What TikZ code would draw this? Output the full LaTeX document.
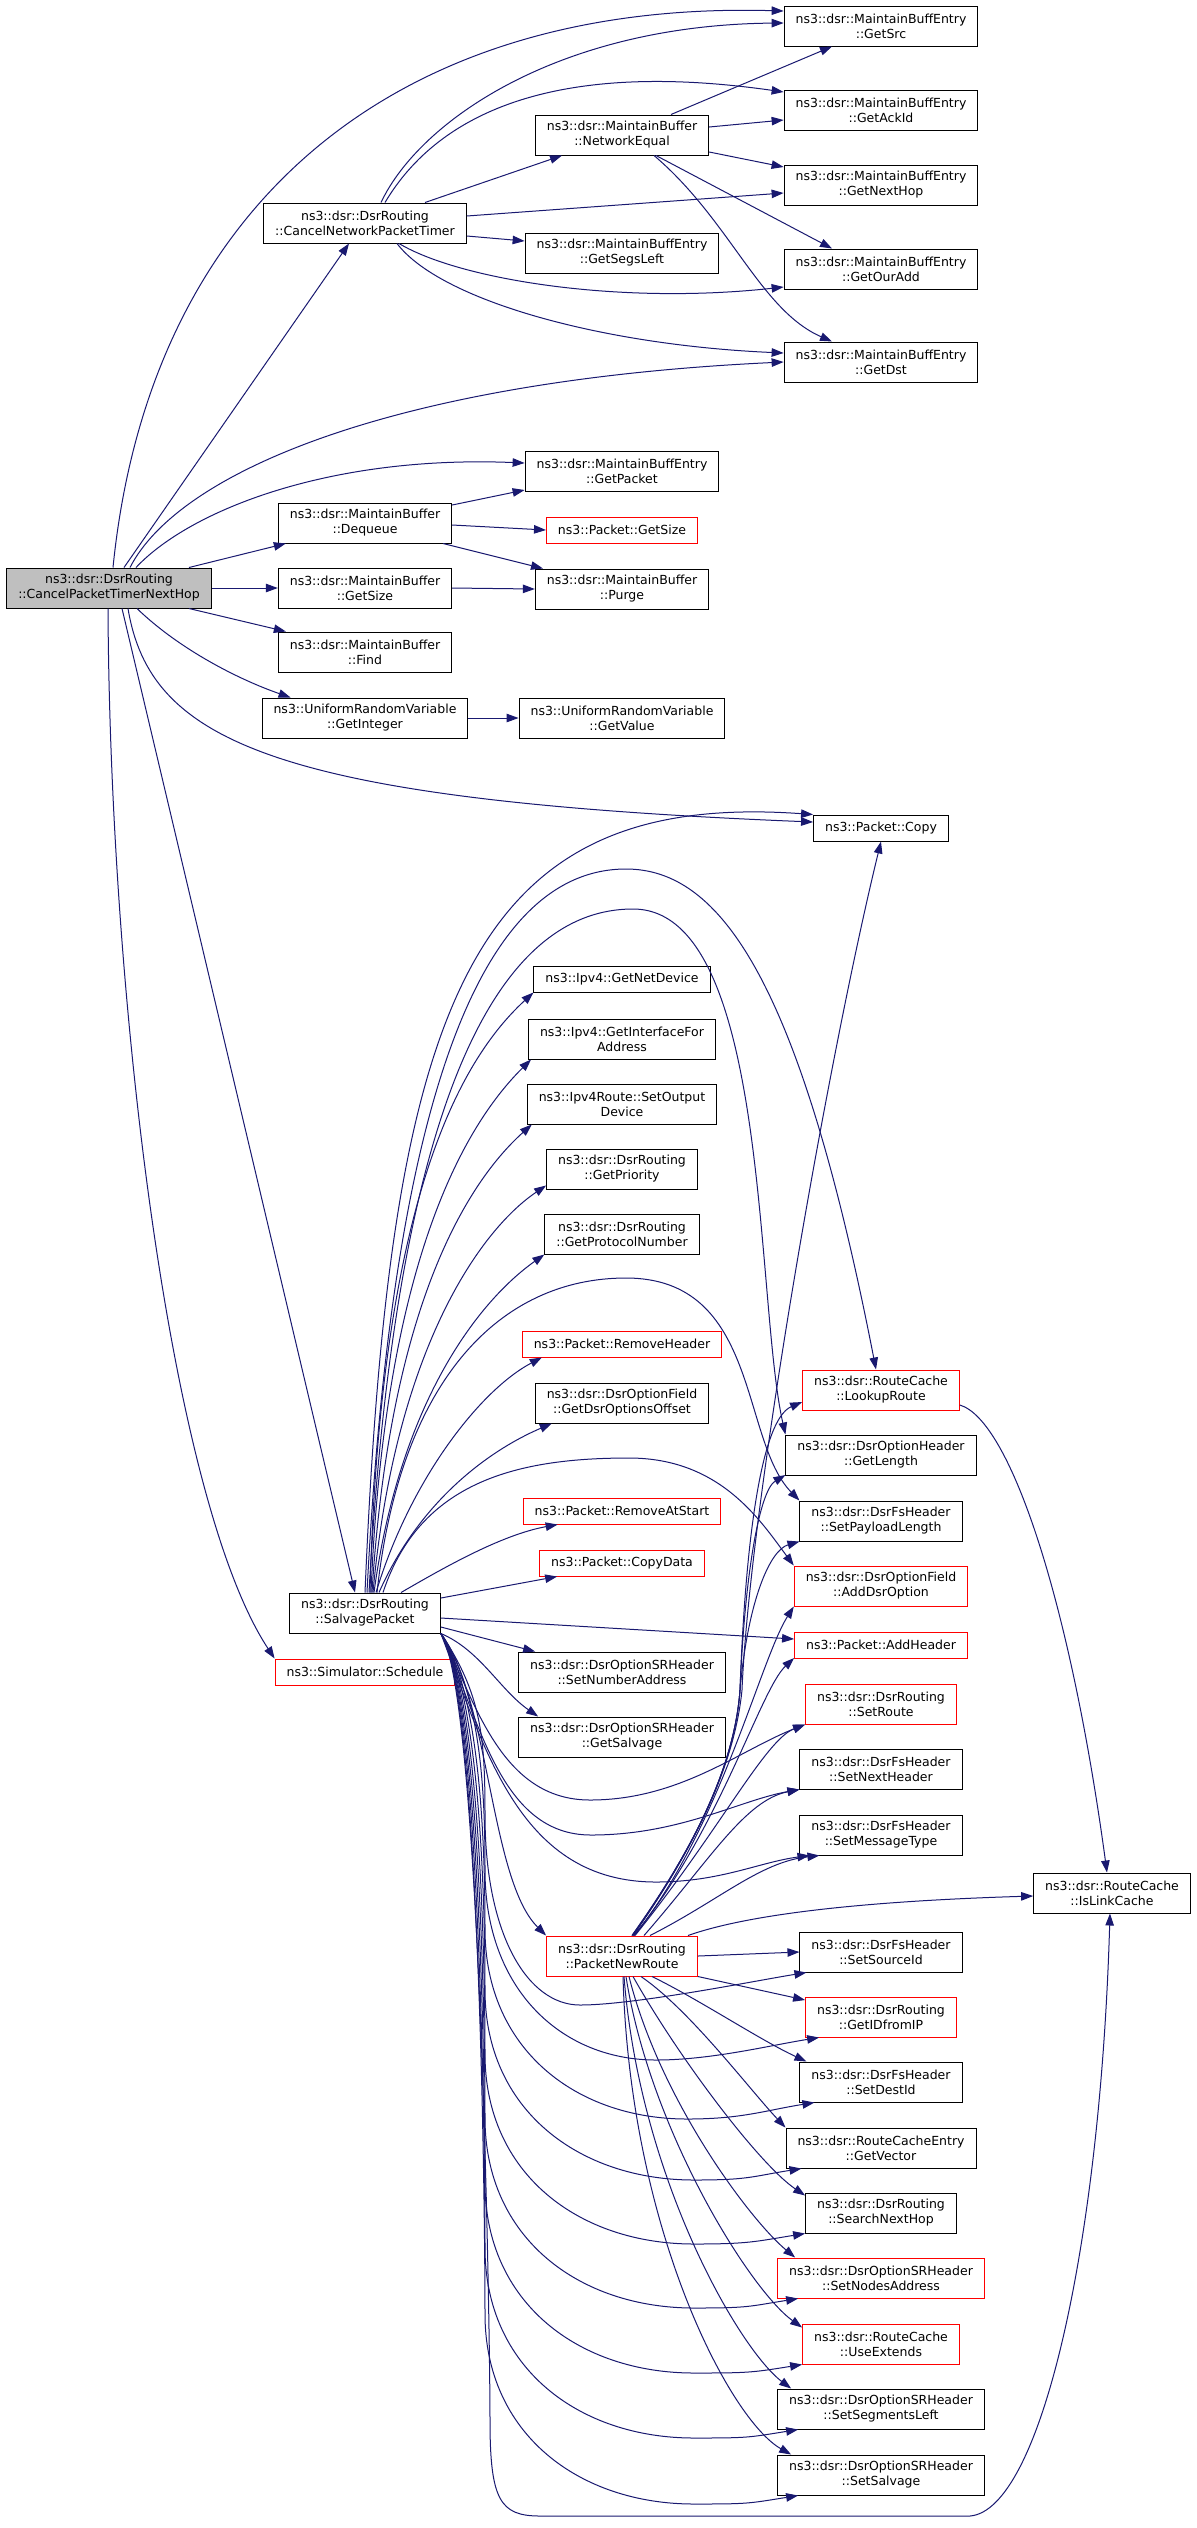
\documentclass[tikz,border=0pt]{standalone}
\usepackage{fontspec}
\setmainfont{DejaVu Sans}
\usetikzlibrary{arrows.meta}
\definecolor{edgeblue}{RGB}{25,25,112}
\definecolor{rootgrey}{RGB}{191,191,191}

\tikzset{
  fn/.style={draw=black, fill=white, line width=1pt, align=center,
    font=\fontsize{12.5}{15}\selectfont, inner xsep=11.5pt, inner ysep=2pt,
    minimum height=40pt},
  fnone/.style={fn, minimum height=26pt},
  ext/.style={draw=red},
  call/.style={-{Triangle[length=12pt,width=8.5pt]}, draw=edgeblue, fill=none,
    line width=1pt}
}

\begin{document}
\begin{tikzpicture}[x=1pt, y=-1pt]
    % Canvas
    \fill[white] (0,0) rectangle (1197,2528);
    \useasboundingbox (0,0) rectangle (1197,2528);

    % Caller
    \node[fn, fill=rootgrey] (root) at (109,588) {ns3::dsr::DsrRouting\\::CancelPacketTimerNextHop};

    % First level callees
    \node[fn] (cnpt) at (365,223) {ns3::dsr::DsrRouting\\::CancelNetworkPacketTimer};
    \node[fn] (dequeue) at (365,523) {ns3::dsr::MaintainBuffer\\::Dequeue};
    \node[fn] (mbsize) at (365,588) {ns3::dsr::MaintainBuffer\\::GetSize};
    \node[fn] (find) at (365,652) {ns3::dsr::MaintainBuffer\\::Find};
    \node[fn] (getint) at (365,718) {ns3::UniformRandomVariable\\::GetInteger};
    \node[fn] (salvage) at (365,1613) {ns3::dsr::DsrRouting\\::SalvagePacket};
    \node[fnone, ext] (schedule) at (365,1672) {ns3::Simulator::Schedule};

    % Second level callees
    \node[fn] (neteq) at (622,135) {ns3::dsr::MaintainBuffer\\::NetworkEqual};
    \node[fn] (segsleft) at (622,253) {ns3::dsr::MaintainBuffEntry\\::GetSegsLeft};
    \node[fn] (getpacket) at (622,471) {ns3::dsr::MaintainBuffEntry\\::GetPacket};
    \node[fnone, ext] (pktsize) at (622,530) {ns3::Packet::GetSize};
    \node[fn] (purge) at (622,589) {ns3::dsr::MaintainBuffer\\::Purge};
    \node[fn] (getvalue) at (622,718) {ns3::UniformRandomVariable\\::GetValue};
    \node[fnone] (netdev) at (622,979) {ns3::Ipv4::GetNetDevice};
    \node[fn] (ifaddr) at (622,1039) {ns3::Ipv4::GetInterfaceFor\\Address};
    \node[fn] (outdev) at (622,1104) {ns3::Ipv4Route::SetOutput\\Device};
    \node[fn] (priority) at (622,1169) {ns3::dsr::DsrRouting\\::GetPriority};
    \node[fn] (protonum) at (622,1234) {ns3::dsr::DsrRouting\\::GetProtocolNumber};
    \node[fnone, ext] (rmheader) at (622,1344) {ns3::Packet::RemoveHeader};
    \node[fn] (optoffset) at (622,1403) {ns3::dsr::DsrOptionField\\::GetDsrOptionsOffset};
    \node[fnone, ext] (rmstart) at (622,1511) {ns3::Packet::RemoveAtStart};
    \node[fnone, ext] (copydata) at (622,1563) {ns3::Packet::CopyData};
    \node[fn] (numaddr) at (622,1672) {ns3::dsr::DsrOptionSRHeader\\::SetNumberAddress};
    \node[fn] (getsalvage) at (622,1737) {ns3::dsr::DsrOptionSRHeader\\::GetSalvage};
    \node[fn, ext] (newroute) at (622,1956) {ns3::dsr::DsrRouting\\::PacketNewRoute};

    % Third level callees
    \node[fn] (src) at (881,26) {ns3::dsr::MaintainBuffEntry\\::GetSrc};
    \node[fn] (ackid) at (881,110) {ns3::dsr::MaintainBuffEntry\\::GetAckId};
    \node[fn] (nexthop) at (881,185) {ns3::dsr::MaintainBuffEntry\\::GetNextHop};
    \node[fn] (ouradd) at (881,269) {ns3::dsr::MaintainBuffEntry\\::GetOurAdd};
    \node[fn] (dst) at (881,362) {ns3::dsr::MaintainBuffEntry\\::GetDst};
    \node[fnone] (copy) at (881,828) {ns3::Packet::Copy};
    \node[fn, ext] (lookup) at (881,1390) {ns3::dsr::RouteCache\\::LookupRoute};
    \node[fn] (getlength) at (881,1455) {ns3::dsr::DsrOptionHeader\\::GetLength};
    \node[fn] (paylen) at (881,1521) {ns3::dsr::DsrFsHeader\\::SetPayloadLength};
    \node[fn, ext] (adddsr) at (881,1586) {ns3::dsr::DsrOptionField\\::AddDsrOption};
    \node[fnone, ext] (addheader) at (881,1645) {ns3::Packet::AddHeader};
    \node[fn, ext] (setroute) at (881,1704) {ns3::dsr::DsrRouting\\::SetRoute};
    \node[fn] (nextheader) at (881,1769) {ns3::dsr::DsrFsHeader\\::SetNextHeader};
    \node[fn] (msgtype) at (881,1835) {ns3::dsr::DsrFsHeader\\::SetMessageType};
    \node[fn] (sourceid) at (881,1952) {ns3::dsr::DsrFsHeader\\::SetSourceId};
    \node[fn, ext] (idfromip) at (881,2017) {ns3::dsr::DsrRouting\\::GetIDfromIP};
    \node[fn] (destid) at (881,2082) {ns3::dsr::DsrFsHeader\\::SetDestId};
    \node[fn] (vector) at (881,2148) {ns3::dsr::RouteCacheEntry\\::GetVector};
    \node[fn] (searchnh) at (881,2213) {ns3::dsr::DsrRouting\\::SearchNextHop};
    \node[fn, ext] (nodesaddr) at (881,2278) {ns3::dsr::DsrOptionSRHeader\\::SetNodesAddress};
    \node[fn, ext] (useext) at (881,2344) {ns3::dsr::RouteCache\\::UseExtends};
    \node[fn] (segleft) at (881,2409) {ns3::dsr::DsrOptionSRHeader\\::SetSegmentsLeft};
    \node[fn] (setsalvage) at (881,2475) {ns3::dsr::DsrOptionSRHeader\\::SetSalvage};

    % Fourth level
    \node[fn] (linkcache) at (1112,1893) {ns3::dsr::RouteCache\\::IsLinkCache};

    % Calls made by the caller
    \draw[call] ([xshift=4pt]root.north) .. controls (150,200) and (400,0) .. ([yshift=15pt]src.west);
    \draw[call] ([xshift=15pt]root.north) -- ([xshift=-16pt]cnpt.south);
    \draw[call] ([xshift=21pt]root.north) .. controls (180,470) and (400,380) .. (dst.west);
    \draw[call] ([xshift=27pt]root.north) .. controls (190,510) and (330,455) .. ([yshift=8pt]getpacket.west);
    \draw[call] ([xshift=80pt]root.north) -- ([xshift=8pt]dequeue.south west);
    \draw[call] (root.east) -- (mbsize.west);
    \draw[call] ([xshift=80pt]root.south) -- ([xshift=8pt]find.north west);
    \draw[call] ([xshift=28pt]root.south) .. controls (180,650) and (240,680) .. ([xshift=29pt]getint.north west);
    \draw[call] ([xshift=19pt]root.south) .. controls (150,740) and (270,800) .. ([yshift=6pt]copy.west);
    \draw[call] ([xshift=13pt]root.south) -- ([xshift=-10pt]salvage.north);
    \draw[call] ([xshift=-1pt]root.south) .. controls (110,1000) and (170,1500) .. (schedule.north west);

    % CancelNetworkPacketTimer
    \draw[call] ([xshift=16pt]cnpt.north) .. controls (420,120) and (560,25) .. ([yshift=3pt]src.west);
    \draw[call] ([xshift=20pt]cnpt.north) .. controls (440,110) and (560,60) .. ([yshift=18pt]ackid.west);
    \draw[call] ([xshift=60pt]cnpt.north) -- ([xshift=-60pt]neteq.south);
    \draw[call] ([yshift=7pt]cnpt.east) -- ([yshift=-8pt]nexthop.west);
    \draw[call] ([yshift=-13pt]cnpt.east) -- ([yshift=12pt]segsleft.west);
    \draw[call] ([xshift=34pt]cnpt.south) .. controls (460,280) and (620,305) .. ([yshift=-18pt]ouradd.west);
    \draw[call] ([xshift=32pt]cnpt.south) .. controls (440,300) and (600,345) .. ([yshift=9pt]dst.west);

    % NetworkEqual
    \draw[call] ([xshift=49pt]neteq.north) -- ([xshift=-49pt]src.south);
    \draw[call] ([yshift=8pt]neteq.east) -- ([yshift=-10pt]ackid.west);
    \draw[call] ([yshift=-17pt]neteq.east) -- ([yshift=18pt]nexthop.west);
    \draw[call] ([xshift=34pt]neteq.south) -- ([xshift=-49pt]ouradd.north);
    \draw[call] ([xshift=32pt]neteq.south) .. controls (730,220) and (760,310) .. ([xshift=-49pt]dst.north);

    % MaintainBuffer and random variable
    \draw[call] ([yshift=18pt]dequeue.east) -- ([yshift=-19pt]getpacket.west);
    \draw[call] ([yshift=-2pt]dequeue.east) -- (pktsize.west);
    \draw[call] ([xshift=78pt]dequeue.south) -- ([xshift=-79pt]purge.north);
    \draw[call] (mbsize.east) -- (purge.west);
    \draw[call] (getint.east) -- (getvalue.west);

    % SalvagePacket, upwards
    \draw[call] (salvage.north) .. controls (390,1000) and (470,790) .. (copy.north west);
    \draw[call] ([xshift=2pt]salvage.north) .. controls (392,1100) and (480,869) .. (626,869)
        .. controls (720,869) and (800,980) .. ([xshift=-5pt]lookup.north);
    \draw[call] ([xshift=4pt]salvage.north) .. controls (395,1120) and (490,909) .. (633,909)
        .. controls (770,909) and (755,1300) .. (getlength.north west);
    \draw[call] ([xshift=12pt]salvage.north) .. controls (400,1380) and (500,1278) .. (626,1278)
        .. controls (760,1278) and (740,1440) .. (paylen.north west);
    \draw[call] ([xshift=18pt]salvage.north) .. controls (420,1480) and (520,1458) .. (629,1458)
        .. controls (720,1458) and (760,1520) .. (adddsr.north west);
    \draw[call] ([xshift=5pt]salvage.north) .. controls (380,1200) and (460,1060) .. (netdev.south west);
    \draw[call] ([xshift=6pt]salvage.north) .. controls (385,1250) and (470,1120) .. ([xshift=3pt]ifaddr.south west);
    \draw[call] ([xshift=7pt]salvage.north) .. controls (390,1300) and (470,1180) .. ([xshift=5pt]outdev.south west);
    \draw[call] ([xshift=8pt]salvage.north) .. controls (395,1350) and (480,1230) .. ([yshift=4pt]priority.south west);
    \draw[call] ([xshift=9pt]salvage.north) .. controls (400,1400) and (480,1300) .. (protonum.south west);
    \draw[call] ([xshift=11pt]salvage.north) .. controls (410,1480) and (480,1390) .. ([xshift=20pt]rmheader.south west);
    \draw[call] ([xshift=14pt]salvage.north) .. controls (420,1500) and (490,1450) .. ([xshift=17pt]optoffset.south west);
    \draw[call] ([xshift=36pt]salvage.north) .. controls (440,1570) and (500,1535) .. ([xshift=35pt]rmstart.south west);

    % SalvagePacket, sideways
    \draw[call] ([yshift=15pt]salvage.east) -- ([xshift=18pt]copydata.south west);
    \draw[call] ([yshift=-5pt]salvage.east) -- ([yshift=6pt]addheader.west);
    \draw[call] ([yshift=-14pt]salvage.east) -- ([xshift=17pt]numaddr.north west);

    % SalvagePacket, downwards
    \draw[call] (salvage.south east) .. controls (480,1650) and (500,1690) .. ([xshift=20pt]getsalvage.north west);
    \draw[call] (salvage.south east) .. controls (490,1700) and (490,1880) .. (newroute.north west);
    \draw[call] (salvage.south east) .. controls (475,1700) and (500,1800) .. (590,1800)
        .. controls (680,1800) and (740,1750) .. (setroute.south west);
    \draw[call] (salvage.south east) .. controls (480,1720) and (500,1835) .. (591,1835)
        .. controls (680,1835) and (740,1800) .. (nextheader.south west);
    \draw[call] (salvage.south east) .. controls (485,1750) and (520,1882) .. (656,1882)
        .. controls (720,1882) and (760,1862) .. ([xshift=10pt]msgtype.south west);
    \foreach \t/\dx/\dy/\sh in {sourceid/580/2005/7, idfromip/656/2060/14, destid/687/2119/15,
        vector/694/2180/16, searchnh/694/2244/0, nodesaddr/694/2308/21, useext/694/2373/0,
        segleft/694/2438/21, setsalvage/694/2504/21} {
        \draw[call] (salvage.south east) .. controls +(40,60) and +(0,-80) .. (485,{\dy-190})
            .. controls +(0,120) and +({-(\dx-485)*0.55},0) .. (\dx,\dy)
            .. controls +(55,0) and +(-50,8) .. ([xshift=\sh pt]\t.south west);
    }
    \draw[call] (salvage.south east) .. controls +(40,60) and +(0,-80) .. (490,2420)
        .. controls (490,2500) and (500,2516) .. (540,2516) -- (970,2516)
        .. controls (1040,2510) and (1100,2250) .. ([xshift=-2pt]linkcache.south);

    % PacketNewRoute, upwards
    \draw[call] ([xshift=11pt]newroute.north) .. controls (700,1840) and (735,1760) .. (742,1690)
        .. controls (750,1500) and (830,1050) .. (copy.south);
    \draw[call] ([xshift=10pt]newroute.north) .. controls (700,1840) and (735,1760) .. (740,1690)
        .. controls (745,1550) and (760,1420) .. ([yshift=-12pt]lookup.west);
    \draw[call] ([xshift=10pt]newroute.north) .. controls (700,1840) and (735,1760) .. (740,1690)
        .. controls (745,1570) and (760,1490) .. ([yshift=-20pt]getlength.west);
    \draw[call] ([xshift=11pt]newroute.north) .. controls (700,1840) and (735,1760) .. (740,1690)
        .. controls (748,1600) and (770,1550) .. (paylen.south west);
    \draw[call] ([xshift=12pt]newroute.north) .. controls (720,1830) and (760,1660) .. (adddsr.south west);
    \draw[call] ([xshift=12pt]newroute.north) .. controls (720,1830) and (760,1690) .. ([yshift=-13pt]addheader.west);
    \draw[call] ([xshift=13pt]newroute.north) .. controls (720,1830) and (765,1740) .. (setroute.south west);
    \draw[call] ([xshift=22pt]newroute.north) .. controls (710,1860) and (745,1800) .. (nextheader.south west);
    \draw[call] ([xshift=28pt]newroute.north) .. controls (720,1900) and (760,1862) .. ([xshift=20pt]msgtype.south west);
    \draw[call] ([xshift=66pt]newroute.north) .. controls (760,1910) and (900,1900) .. ([yshift=-3pt]linkcache.west);

    % PacketNewRoute, sideways and downwards
    \draw[call] (newroute.east) -- (sourceid.west);
    \draw[call] (newroute.south east) -- ([yshift=17pt]idfromip.west);
    \draw[call] ([xshift=30pt]newroute.south) .. controls (700,2000) and (760,2040) .. ([xshift=7pt]destid.north west);
    \draw[call] ([xshift=19pt]newroute.south) .. controls (690,2010) and (750,2090) .. (vector.north west);
    \draw[call] ([xshift=11pt]newroute.south) .. controls (680,2060) and (760,2165) .. ([yshift=-3pt]searchnh.north west);
    \draw[call] ([xshift=7pt]newroute.south) .. controls (660,2100) and (750,2220) .. ([xshift=18pt]nodesaddr.north west);
    \draw[call] ([xshift=4pt]newroute.south) .. controls (650,2130) and (750,2290) .. ([yshift=-4pt]useext.north west);
    \draw[call] ([xshift=2pt]newroute.south) .. controls (640,2180) and (740,2350) .. ([xshift=14pt]segleft.north west);
    \draw[call] ([xshift=1pt]newroute.south) .. controls (630,2230) and (730,2420) .. ([xshift=14pt]setsalvage.north west);

    % LookupRoute
    \draw[call] ([yshift=-15pt]lookup.east) .. controls (1010,1420) and (1070,1600) .. ([xshift=-5pt]linkcache.north);
\end{tikzpicture}
\end{document}
